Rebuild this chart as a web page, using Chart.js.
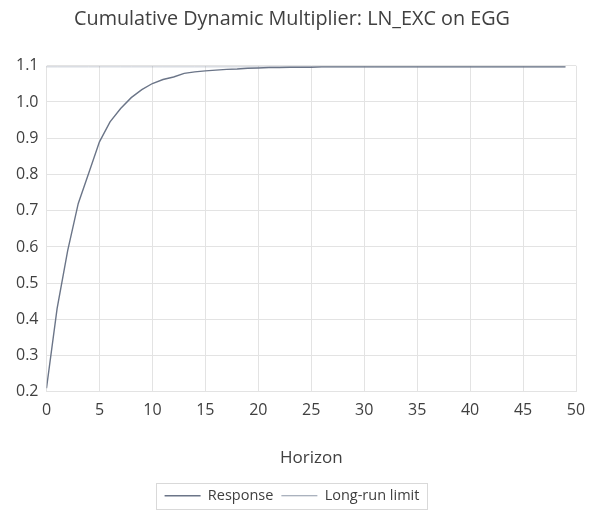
<!DOCTYPE html>
<html>
<head>
<meta charset="utf-8">
<title>Cumulative Dynamic Multiplier</title>
<script src="https://cdn.jsdelivr.net/npm/chart.js"></script>
<style>
  html, body { margin: 0; padding: 0; background: #fff; }
  #wrap { width: 590px; height: 513px; }
</style>
</head>
<body>
<div id="wrap"><canvas id="canvas"></canvas></div>
<script>
var horizon = [];
for (var i = 0; i <= 49; i++) horizon.push(i);

var response = [0.21, 0.43, 0.59, 0.72, 0.805, 0.89, 0.945, 0.982, 1.012, 1.034,
                1.051, 1.062, 1.069, 1.079, 1.083, 1.086, 1.088, 1.090, 1.091, 1.093,
                1.094, 1.095, 1.095, 1.096, 1.096, 1.096, 1.097, 1.097, 1.097, 1.097,
                1.097, 1.097, 1.097, 1.097, 1.097, 1.097, 1.097, 1.097, 1.097, 1.097,
                1.097, 1.097, 1.097, 1.097, 1.097, 1.097, 1.097, 1.097, 1.097, 1.097];
var longRun = horizon.map(function () { return 1.097; });

var fontName = "'Open Sans', 'Liberation Sans', sans-serif";

// box round the legend, like the original
var legendBox = {
    id: 'legendBox',
    afterDraw: function (chart) {
        var lg = chart.legend;
        if (!lg || !lg.legendHitBoxes.length) return;
        var first = lg.legendHitBoxes[0], last = lg.legendHitBoxes[lg.legendHitBoxes.length - 1];
        var c = chart.ctx;
        c.save();
        c.strokeStyle = '#d9d9d9';
        c.lineWidth = 1;
        c.strokeRect(Math.round(first.left) - 8.5, Math.round(first.top) - 5.5,
                     Math.round(last.left + last.width - first.left) + 16, Math.round(first.height) + 11);
        c.restore();
    }
};

var ctx = document.getElementById('canvas').getContext('2d');
new Chart(ctx, {
    type: 'line',
    data: {
        labels: horizon,
        datasets: [
            {
                label: 'Response',
                data: response,
                borderColor: '#6b7588',
                borderWidth: 1.4,
                pointRadius: 0,
                pointStyle: 'line',
                tension: 0
            },
            {
                label: 'Long-run limit',
                data: longRun,
                borderColor: '#8e98a8',
                borderWidth: 1,
                borderDash: [1, 1],
                pointRadius: 0,
                pointStyle: 'line'
            }
        ]
    },
    options: {
        responsive: true,
        maintainAspectRatio: false,
        animation: false,
        layout: { padding: { left: 8, right: 14, top: 7, bottom: 0 } },
        plugins: {
            title: {
                display: true,
                text: 'Cumulative Dynamic Multiplier: LN_EXC on EGG',
                color: '#404040',
                font: { family: fontName, size: 19.8, weight: 'normal' },
                padding: { top: 0, bottom: 35 }
            },
            legend: {
                position: 'bottom',
                labels: {
                    usePointStyle: true,
                    pointStyleWidth: 36,
                    color: '#404040',
                    font: { family: fontName, size: 14.5 },
                    padding: 8
                }
            },
            tooltip: { enabled: false }
        },
        scales: {
            x: {
                type: 'linear',
                min: 0,
                max: 50,
                afterFit: function (s) { s.paddingRight = 0; s.paddingLeft = 0; },
                ticks: { stepSize: 5, color: '#404040', padding: 9, font: { family: fontName, size: 16 } },
                grid: { color: '#e3e3e3', drawTicks: false },
                border: { display: false },
                title: {
                    display: true,
                    text: 'Horizon',
                    color: '#404040',
                    font: { family: fontName, size: 17 },
                    padding: { top: 19, bottom: 12 }
                }
            },
            y: {
                min: 0.2,
                max: 1.1,
                ticks: {
                    stepSize: 0.1,
                    color: '#404040',
                    font: { family: fontName, size: 16 },
                    padding: 8,
                    callback: function (v) { return v.toFixed(1); }
                },
                grid: { color: '#e3e3e3', drawTicks: false },
                border: { display: false }
            }
        }
    },
    plugins: [legendBox]
});
</script>
</body>
</html>
